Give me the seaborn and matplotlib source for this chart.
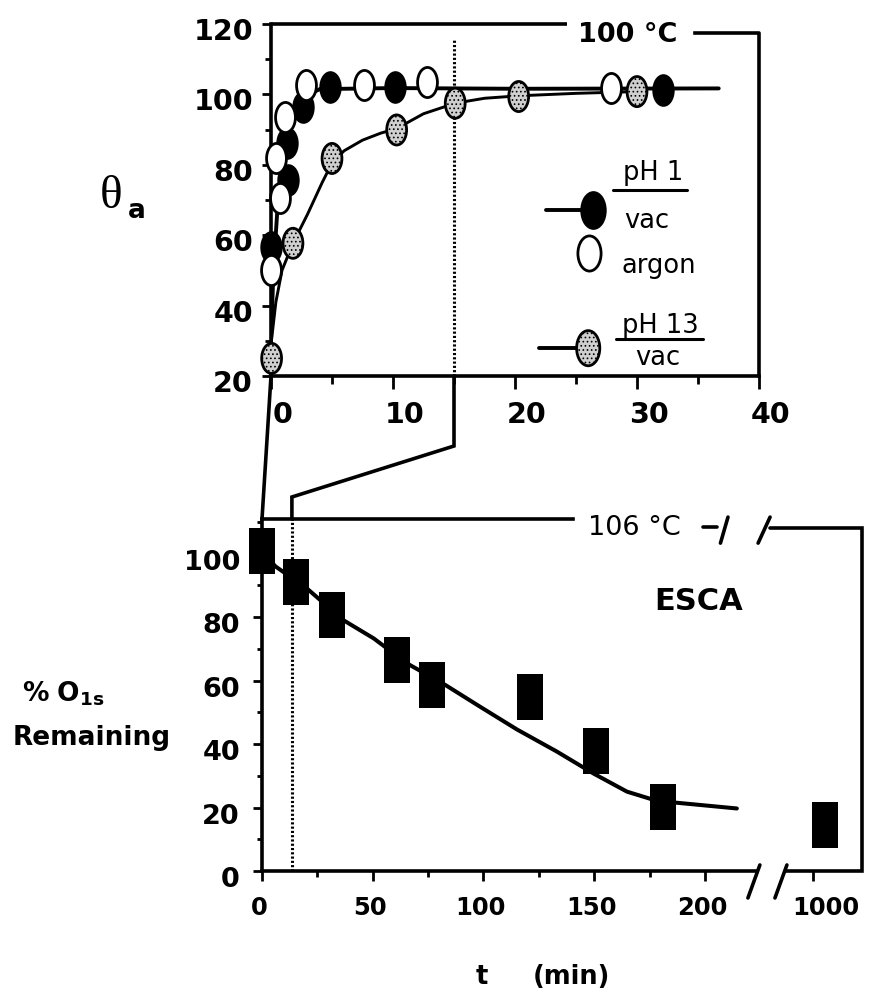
import matplotlib
matplotlib.use("Agg")
import matplotlib.pyplot as plt
import matplotlib.transforms as mtransforms
from matplotlib.path import Path
from matplotlib.lines import Line2D
import seaborn as sns

# ---------------- contact angle (top panel), 100 °C ----------------
ph1_vac_t = [0.0, 1.3, 1.4, 2.65, 4.8, 10.2, 32.1]
ph1_vac_theta = [56.7, 86.1, 75.7, 96.5, 102.2, 102.0, 101.3]

ph1_argon_t = [0.0, 0.74, 0.41, 1.15, 2.9, 7.6, 12.8, 27.9]
ph1_argon_theta = [50.1, 70.5, 81.8, 93.7, 102.7, 102.7, 103.6, 101.7]

ph13_vac_t = [0.05, 1.8, 5.0, 10.3, 15.1, 20.3, 30.0]
ph13_vac_theta = [25.0, 57.7, 81.8, 89.9, 97.5, 99.4, 100.8]

ph1_fit_t = [0.0, 0.2, 0.5, 0.9, 1.4, 2.0, 2.8, 4.0, 10.0, 20.0, 36.7]
ph1_fit_theta = [30, 50, 66, 80, 89, 95, 99.5, 101.5, 101.8, 101.6, 101.7]

ph13_fit_t = [0.0, 0.4, 0.9, 1.8, 3.0, 4.2, 5.0, 6.0, 7.5, 9.0, 10.3, 12.5,
              15.1, 17.5, 20.3, 25.0, 30.0]
ph13_fit_theta = [29, 41, 50, 57.7, 66, 75, 80.5, 84, 87, 89, 90.3, 94.5,
                  97.5, 98.9, 99.6, 100.3, 100.8]

# ---------------- ESCA O1s signal (bottom panel), 106 °C ----------------
esca_t = [0, 15.3, 31.8, 60.8, 76.6, 121, 150.8, 181.2]
esca_o1s = [100.9, 91.2, 80.5, 66.5, 58.6, 54.7, 37.8, 20.3]
esca_late_t = [1005]
esca_late_o1s = [14.5]

esca_fit_t = [0, 6, 20.3, 36.8, 50.4, 65.5, 82.8, 98.6, 115.1, 133.2, 149.7,
              164.8, 178.3, 197.9, 214.4]
esca_fit_o1s = [100.9, 96.0, 89.0, 79.0, 73.3, 65.4, 58.6, 51.7, 44.6, 37.6,
                30.7, 25.0, 22.1, 20.8, 19.7]

# tick values
top_xticks = [0, 10, 20, 30, 40]
top_xminor = [5, 15, 25, 35]
top_yticks = [20, 40, 60, 80, 100, 120]
top_yminor = [30, 50, 70, 90, 110]
bot_xticks = [0, 50, 100, 150, 200]
bot_xminor = [25, 75, 125, 175]
late_xticks = [1000]
bot_yticks = [0, 20, 40, 60, 80, 100]
bot_yminor = [10, 30, 50, 70, 90, 110]

# time marks of the magnified window
window_top_t = 15
window_bot_t = 13.5

sns.set_style("ticks")
plt.rcParams["font.family"] = ["DejaVu Sans"]
plt.rcParams["mathtext.fontset"] = "dejavusans"
plt.rcParams["hatch.linewidth"] = 0.7
plt.rcParams["axes.linewidth"] = 2.6
for key in ("text.color", "axes.edgecolor", "axes.labelcolor",
            "xtick.color", "ytick.color", "xtick.labelcolor",
            "ytick.labelcolor"):
    plt.rcParams[key] = "black"

W, H = 872, 994
fig = plt.figure(figsize=(W / 100, H / 100), dpi=100)
fig.patch.set_facecolor("white")


def box(left, right, top, bottom):
    return [left / W, 1 - bottom / H, (right - left) / W, (bottom - top) / H]


axT = fig.add_axes(box(271, 759, 24, 376))
axB = fig.add_axes(box(262, 757, 519, 871))
axR = fig.add_axes(box(757, 862, 519, 871))

T_XLIM = (0, 40)
T_YLIM = (20, 120)
B_XLIM = (0, 223.5)
B_YLIM = (0, 110.9)
R_XLIM = (974.5, 1021.9)

LW = 2.6
INK = "black"

# ---- ellipse and bar markers ----
_c = Path.unit_circle()
ELL = Path(_c.vertices * [0.66, 1.0], _c.codes)
BAR = Path([(-0.56, -1), (0.56, -1), (0.56, 1), (-0.56, 1), (-0.56, -1)],
           [Path.MOVETO, Path.LINETO, Path.LINETO, Path.LINETO, Path.CLOSEPOLY])

# ================= top panel =================
sns.lineplot(x=ph1_fit_t, y=ph1_fit_theta, ax=axT, color=INK, lw=2.8,
             estimator=None, sort=False, zorder=2)
sns.lineplot(x=ph13_fit_t, y=ph13_fit_theta, ax=axT, color=INK, lw=2.1,
             estimator=None, sort=False, zorder=2)

sns.scatterplot(x=ph1_vac_t, y=ph1_vac_theta, ax=axT, marker=ELL, s=470,
                color=INK, edgecolor=INK, linewidth=1.8, zorder=4,
                clip_on=False)
sns.scatterplot(x=ph1_argon_t, y=ph1_argon_theta, ax=axT, marker=ELL, s=470,
                color="white", edgecolor=INK, linewidth=2.0, zorder=5,
                clip_on=False)
sns.scatterplot(x=ph13_vac_t, y=ph13_vac_theta, ax=axT, marker=ELL, s=470,
                color="#cfcfcf", edgecolor=INK, linewidth=2.0,
                hatch="....", zorder=6, clip_on=False)

axT.vlines(window_top_t, 20, 115.5, colors=INK, lw=2.2,
           linestyles=(0, (0.7, 0.7)), zorder=3)

axT.set_xlim(*T_XLIM)
axT.set_ylim(*T_YLIM)
axT.set_xticks(top_xticks)
axT.set_xticks(top_xminor, minor=True)
axT.set_yticks(top_yticks)
axT.set_yticks(top_yminor, minor=True)
axT.set_xticklabels([str(v) for v in top_xticks])
axT.set_yticklabels([str(v) for v in top_yticks])
axT.tick_params(axis="x", which="major", direction="out", length=9.4, width=2,
                pad=8.6, labelsize=20.5)
axT.tick_params(axis="x", which="minor", direction="out", length=5.8, width=2)
axT.tick_params(axis="y", which="major", direction="out", length=6.5, width=2,
                pad=6.5, labelsize=20.5)
axT.tick_params(axis="y", which="minor", direction="out", length=4.3, width=2)
for lab in axT.get_xticklabels() + axT.get_yticklabels():
    lab.set_fontweight("bold")
for sp in ("top", "right"):
    axT.spines[sp].set_visible(False)
axT.set_facecolor("none")

shift_r = mtransforms.ScaledTranslation(0.12, 0, fig.dpi_scale_trans)
shift_d = mtransforms.ScaledTranslation(0, -0.05, fig.dpi_scale_trans)
for lab in axT.get_xticklabels():
    lab.set_transform(lab.get_transform() + shift_r)
for lab in axT.get_yticklabels():
    lab.set_transform(lab.get_transform() + shift_d)

# broken top frame with the temperature
axT.plot([0, 24.3], [120, 120], color=INK, lw=LW, clip_on=False,
         solid_capstyle="butt")
axT.plot([34.75, 40, 40], [117.5, 117.5, 20], color=INK, lw=LW,
         clip_on=False, solid_capstyle="projecting")
axT.text(29.2, 115.0, "100 °C", ha="center", va="baseline", fontsize=19.5,
         fontweight="bold")

# key
axT.plot([28.0, 34.1], [72.8, 72.8], color=INK, lw=2.2)
axT.plot([22.5, 26.4], [67.2, 67.2], color=INK, lw=2.8)
axT.scatter([26.4], [67.2], marker=ELL, s=680, color=INK,
            edgecolor=INK, linewidth=1.8, zorder=5)
axT.scatter([26.1], [54.9], marker=ELL, s=640, color="white",
            edgecolor=INK, linewidth=2.0, zorder=5)
axT.plot([28.3, 35.4], [30.4, 30.4], color=INK, lw=2.2)
axT.plot([22.0, 26.0], [27.9, 27.9], color=INK, lw=2.8)
axT.scatter([26.0], [27.9], marker=ELL, s=640, color="#cfcfcf",
            edgecolor=INK, linewidth=2.0, hatch="....", zorder=5)
axT.text(31.3, 75.7, "pH 1", ha="center", va="baseline", fontsize=18.5)
axT.text(30.8, 62.0, "vac", ha="center", va="baseline", fontsize=18.5)
axT.text(31.75, 49.2, "argon", ha="center", va="baseline", fontsize=18.5)
axT.text(31.9, 32.2, "pH 13", ha="center", va="baseline", fontsize=18.5)
axT.text(31.7, 23.1, "vac", ha="center", va="baseline", fontsize=18.5)

# ================= bottom panel =================
sns.lineplot(x=esca_fit_t, y=esca_fit_o1s, ax=axB, color=INK, lw=2.9,
             estimator=None, sort=False, zorder=2)
sns.scatterplot(x=esca_t, y=esca_o1s, ax=axB, marker=BAR, s=1050,
                color=INK, edgecolor=INK, linewidth=0, zorder=4,
                clip_on=False)
sns.scatterplot(x=esca_late_t, y=esca_late_o1s, ax=axR, marker=BAR, s=1050,
                color=INK, edgecolor=INK, linewidth=0, zorder=4,
                clip_on=False)

axB.vlines(window_bot_t, 0, B_YLIM[1], colors=INK, lw=2.2,
           linestyles=(0, (0.7, 0.7)), zorder=3)

axB.set_xlim(*B_XLIM)
axB.set_ylim(*B_YLIM)
axB.set_xticks(bot_xticks)
axB.set_xticks(bot_xminor, minor=True)
axB.set_yticks(bot_yticks)
axB.set_yticks(bot_yminor, minor=True)
axB.set_xticklabels([str(v) for v in bot_xticks])
axB.set_yticklabels([str(v) for v in bot_yticks])
axB.tick_params(axis="x", which="major", direction="out", length=7, width=2,
                pad=11, labelsize=17.5)
axB.tick_params(axis="x", which="minor", direction="out", length=4.3, width=2)
axB.tick_params(axis="y", which="major", direction="out", length=6.5, width=2,
                pad=9.4, labelsize=19.5)
axB.tick_params(axis="y", which="minor", direction="out", length=3.6, width=2)
for lab in axB.get_xticklabels() + axB.get_yticklabels():
    lab.set_fontweight("bold")
for sp in ("top", "right"):
    axB.spines[sp].set_visible(False)
axB.set_facecolor("none")
shift_l = mtransforms.ScaledTranslation(-0.03, 0, fig.dpi_scale_trans)
shift_d2 = mtransforms.ScaledTranslation(0, -0.06, fig.dpi_scale_trans)
for lab in axB.get_xticklabels():
    lab.set_transform(lab.get_transform() + shift_l)
for lab in axB.get_yticklabels():
    lab.set_transform(lab.get_transform() + shift_d2)

axR.set_xlim(*R_XLIM)
axR.set_ylim(*B_YLIM)
axR.set_xticks(late_xticks)
axR.set_xticklabels([str(v) for v in late_xticks])
axR.set_yticks([])
axR.tick_params(axis="x", which="major", direction="out", length=7, width=2,
                pad=11, labelsize=17.5)
for lab in axR.get_xticklabels():
    lab.set_fontweight("bold")
    lab.set_transform(lab.get_transform() + shift_r)
for sp in axR.spines.values():
    sp.set_visible(False)
axR.set_facecolor("none")

# frame of the bottom panel with axis breaks
axB.plot([0, 140.5], [B_YLIM[1], B_YLIM[1]], color=INK, lw=LW,
         clip_on=False, solid_capstyle="projecting")
axB.text(168, 105.8, "106 °C", ha="center", va="baseline", fontsize=19.5)
axB.plot([199.1, 205.4], [108.3, 108.3], color=INK, lw=LW, clip_on=False)
axB.plot([207.0, 210.4], [103.3, 111.5], color=INK, lw=LW, clip_on=False)
axB.plot([219.4, 224.8], [-8.5, 1.9], color=INK, lw=LW, clip_on=False)
axR.plot([975.0, 980.4], [103.3, 111.5], color=INK, lw=LW, clip_on=False)
axR.plot([980.4, R_XLIM[1], R_XLIM[1], 987.6], [108.1, 108.1, 0, 0],
         color=INK, lw=LW, clip_on=False, solid_joinstyle="miter")
axR.plot([982.6, 988.0], [-8.5, 1.9], color=INK, lw=LW, clip_on=False)

axB.text(197.3, 82.2, "ESCA", ha="center", va="baseline", fontsize=22,
         fontweight="bold")

# ================= magnifier connector =================
inv = fig.transFigure.inverted()


def fig_xy(ax, x, y):
    return inv.transform(ax.transData.transform((x, y)))


p0 = fig_xy(axT, 0, T_YLIM[0])
p1 = fig_xy(axB, 0, B_YLIM[1])
fig.add_artist(Line2D([p0[0], p1[0]], [p0[1], p1[1]], color=INK, lw=LW,
                      transform=fig.transFigure))
q0 = fig_xy(axT, window_top_t, T_YLIM[0])
q3 = fig_xy(axB, window_bot_t, B_YLIM[1])
q1 = (q0[0], q0[1] - 70 / H)
q2 = (q3[0], q3[1] + 22 / H)
fig.add_artist(Line2D([q0[0], q1[0], q2[0], q3[0]],
                      [q0[1], q1[1], q2[1], q3[1]], color=INK, lw=LW,
                      solid_joinstyle="miter", transform=fig.transFigure))

# ================= axis titles =================
fig.text(111 / W, 1 - 208 / H, "θ", fontsize=34, family="Liberation Serif",
         ha="center", va="baseline")
fig.text(137 / W, 1 - 218 / H, "a", fontsize=19, fontweight="bold",
         ha="center", va="baseline")
fig.text(22 / W, 1 - 702 / H, r"$\mathbf{\%\ O}_{\mathbf{1s}}$", fontsize=19,
         ha="left", va="baseline")
fig.text(13 / W, 1 - 745 / H, "Remaining", fontsize=19, fontweight="bold",
         ha="left", va="baseline")
fig.text(482 / W, 1 - 984 / H, "t", fontsize=18.5, fontweight="bold",
         ha="center", va="baseline")
fig.text(571.7 / W, 1 - 984 / H, "(min)", fontsize=18.5, fontweight="bold",
         ha="center", va="baseline")

fig.savefig("out.png", dpi=100, facecolor="white")
